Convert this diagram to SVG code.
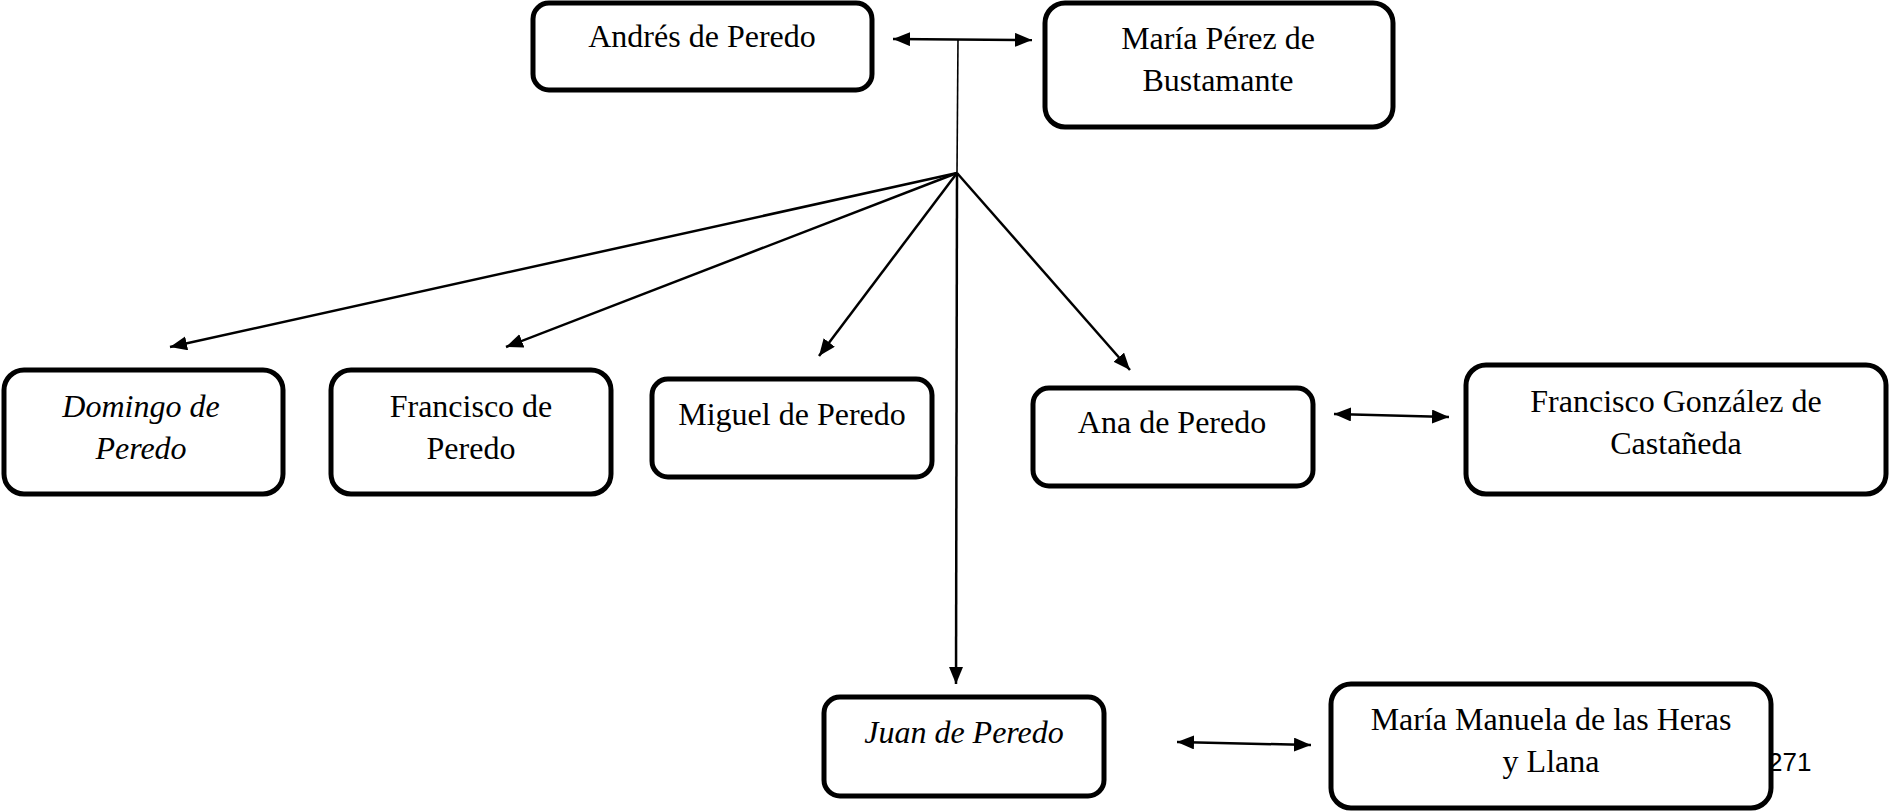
<svg xmlns="http://www.w3.org/2000/svg" width="1889" height="812" viewBox="0 0 1889 812">
<style>
.box{fill:#fff;stroke:#000;stroke-width:5}
.t{font-family:"Liberation Serif","Times New Roman",serif;font-size:32px;text-anchor:middle;fill:#000}
.it{font-style:italic}
.c{fill:none;stroke:#000;stroke-width:2.5}
.thin{fill:none;stroke:#000;stroke-width:1.6}
.pg{font-family:"Liberation Sans",Arial,sans-serif;font-size:26px;fill:#000}
</style>
<defs>
<marker id="ah" markerUnits="userSpaceOnUse" markerWidth="20" markerHeight="16" refX="17" refY="7" orient="auto-start-reverse">
<path d="M0,0 L17,7 L0,14 Z" fill="#000"/>
</marker>
</defs>
<rect width="1889" height="812" fill="#fff"/>
<text class="pg" x="1768" y="771">271</text>
<g id="connectors">
<path class="c" d="M893,39 L1032,40" marker-start="url(#ah)" marker-end="url(#ah)"/>
<path class="thin" d="M958,39 L957,173"/>
<path class="c" d="M957,173 L170,347" marker-end="url(#ah)"/>
<path class="c" d="M957,173 L506,347" marker-end="url(#ah)"/>
<path class="c" d="M957,173 L819,356" marker-end="url(#ah)"/>
<path class="c" d="M957,173 L1130,370" marker-end="url(#ah)"/>
<path class="c" d="M957,173 L956,684" marker-end="url(#ah)"/>
<path class="c" d="M1334,414 L1449,417" marker-start="url(#ah)" marker-end="url(#ah)"/>
<path class="c" d="M1177,742 L1311,745" marker-start="url(#ah)" marker-end="url(#ah)"/>
</g>
<g id="andres">
<rect class="box" x="533" y="3" width="339" height="87" rx="16"/>
<text class="t" x="702" y="47">Andrés de Peredo</text>
</g>
<g id="maria-perez">
<rect class="box" x="1045" y="3" width="348" height="124" rx="20"/>
<text class="t" x="1218" y="49">María Pérez de</text>
<text class="t" x="1218" y="91">Bustamante</text>
</g>
<g id="domingo">
<rect class="box" x="4" y="370" width="279" height="124" rx="20"/>
<text class="t it" x="141" y="417">Domingo de</text>
<text class="t it" x="141" y="459">Peredo</text>
</g>
<g id="francisco">
<rect class="box" x="331" y="370" width="280" height="124" rx="20"/>
<text class="t" x="471" y="417">Francisco de</text>
<text class="t" x="471" y="459">Peredo</text>
</g>
<g id="miguel">
<rect class="box" x="652" y="379" width="280" height="98" rx="16"/>
<text class="t" x="792" y="425">Miguel de Peredo</text>
</g>
<g id="ana">
<rect class="box" x="1033" y="388" width="280" height="98" rx="16"/>
<text class="t" x="1172" y="433">Ana de Peredo</text>
</g>
<g id="francisco-gonzalez">
<rect class="box" x="1466" y="365" width="420" height="129" rx="20"/>
<text class="t" x="1676" y="412">Francisco González de</text>
<text class="t" x="1676" y="454">Castañeda</text>
</g>
<g id="juan">
<rect class="box" x="824" y="697" width="280" height="99" rx="16"/>
<text class="t it" x="964" y="743">Juan de Peredo</text>
</g>
<g id="maria-manuela">
<rect class="box" x="1331" y="684" width="440" height="124" rx="20"/>
<text class="t" x="1551" y="730">María Manuela de las Heras</text>
<text class="t" x="1551" y="772">y Llana</text>
</g>
</svg>
